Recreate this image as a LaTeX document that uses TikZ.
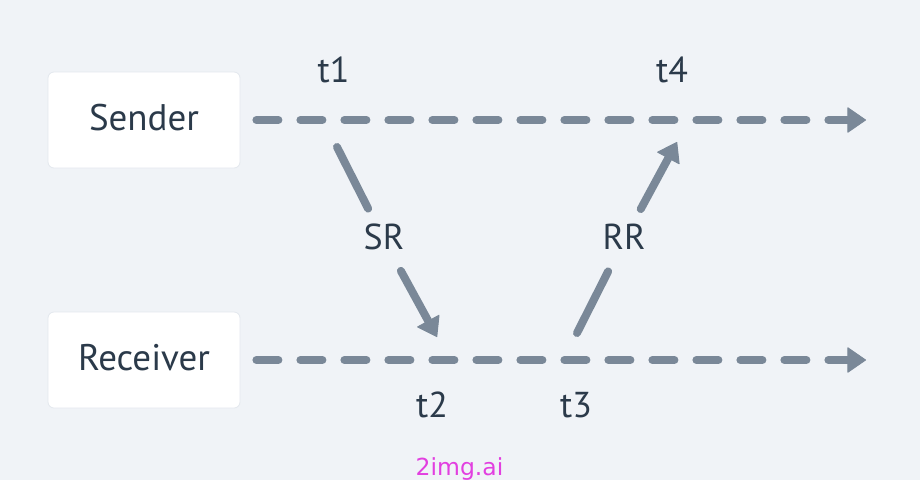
\documentclass[tikz,border=0pt]{standalone}
\usepackage{fontspec}
\setmainfont{PT Sans}
\newfontfamily\wmfont{DejaVu Sans}
\usetikzlibrary{arrows.meta}
\definecolor{bg}{HTML}{F0F3F7}
\definecolor{linegray}{HTML}{7A8898}
\definecolor{ink}{HTML}{2B3A4A}
\definecolor{boxedge}{HTML}{E3E8EE}
\definecolor{wm}{HTML}{E23FE0}
\tikzset{
  box/.style={fill=white, draw=boxedge, line width=0.8pt, rounded corners=6pt,
    minimum width=192pt, minimum height=96pt, inner sep=0pt,
    text height=21pt, text depth=0pt, text=ink, font=\fontsize{37}{44}\selectfont},
  tlabel/.style={anchor=base, text=ink, inner sep=0pt, font=\fontsize{36}{43}\selectfont},
  msglabel/.style={circle, minimum size=70pt, inner sep=0pt, text height=19pt, text depth=0pt,
    text=ink, font=\fontsize{36}{43}\selectfont},
  tip/.tip={Triangle[length=19pt,width=26pt,line width=1pt,round]},
  timeline/.style={draw=linegray, line width=8pt, line cap=round, dash pattern=on 22pt off 22pt, -{tip}},
  msgline/.style={draw=linegray, line width=8pt, line cap=round},
}
\begin{document}
\begin{tikzpicture}[x=1pt,y=-1pt]
\fill[bg] (0,0) rectangle (920,480);
\useasboundingbox (0,0) rectangle (920,480);

\node[box] (sender) at (144,120) {Sender};
\node[box] (receiver) at (144,360) {Receiver};

\coordinate (sendend) at (866,120);
\coordinate (recvend) at (866,360);
\draw[timeline] ([xshift=16pt]sender.east) -- (sendend);
\draw[timeline] ([xshift=16pt]receiver.east) -- (recvend);

\node[tlabel] (t1) at (333.5,82) {t1};
\node[tlabel] (t4) at (672,82) {t4};
\node[tlabel] (t2) at (432,417) {t2};
\node[tlabel] (t3) at (576,417) {t3};

\coordinate (p1) at (337,147);
\coordinate (p2) at (437,337);
\coordinate (p3) at (577,333);
\coordinate (p4) at (677,142);
\node[msglabel] (sr) at (384,240) {SR};
\node[msglabel] (rr) at (624,240) {RR};

\draw[msgline] (p1) -- (sr);
\draw[msgline, -{tip}] (sr) -- (p2);
\draw[msgline] (p3) -- (rr);
\draw[msgline, -{tip}] (rr) -- (p4);

\node[anchor=base, inner sep=0pt, text=wm, font=\wmfont\fontsize{23.5}{28}\selectfont] (wmark) at (459.5,475) {2img.ai};
\end{tikzpicture}
\end{document}
